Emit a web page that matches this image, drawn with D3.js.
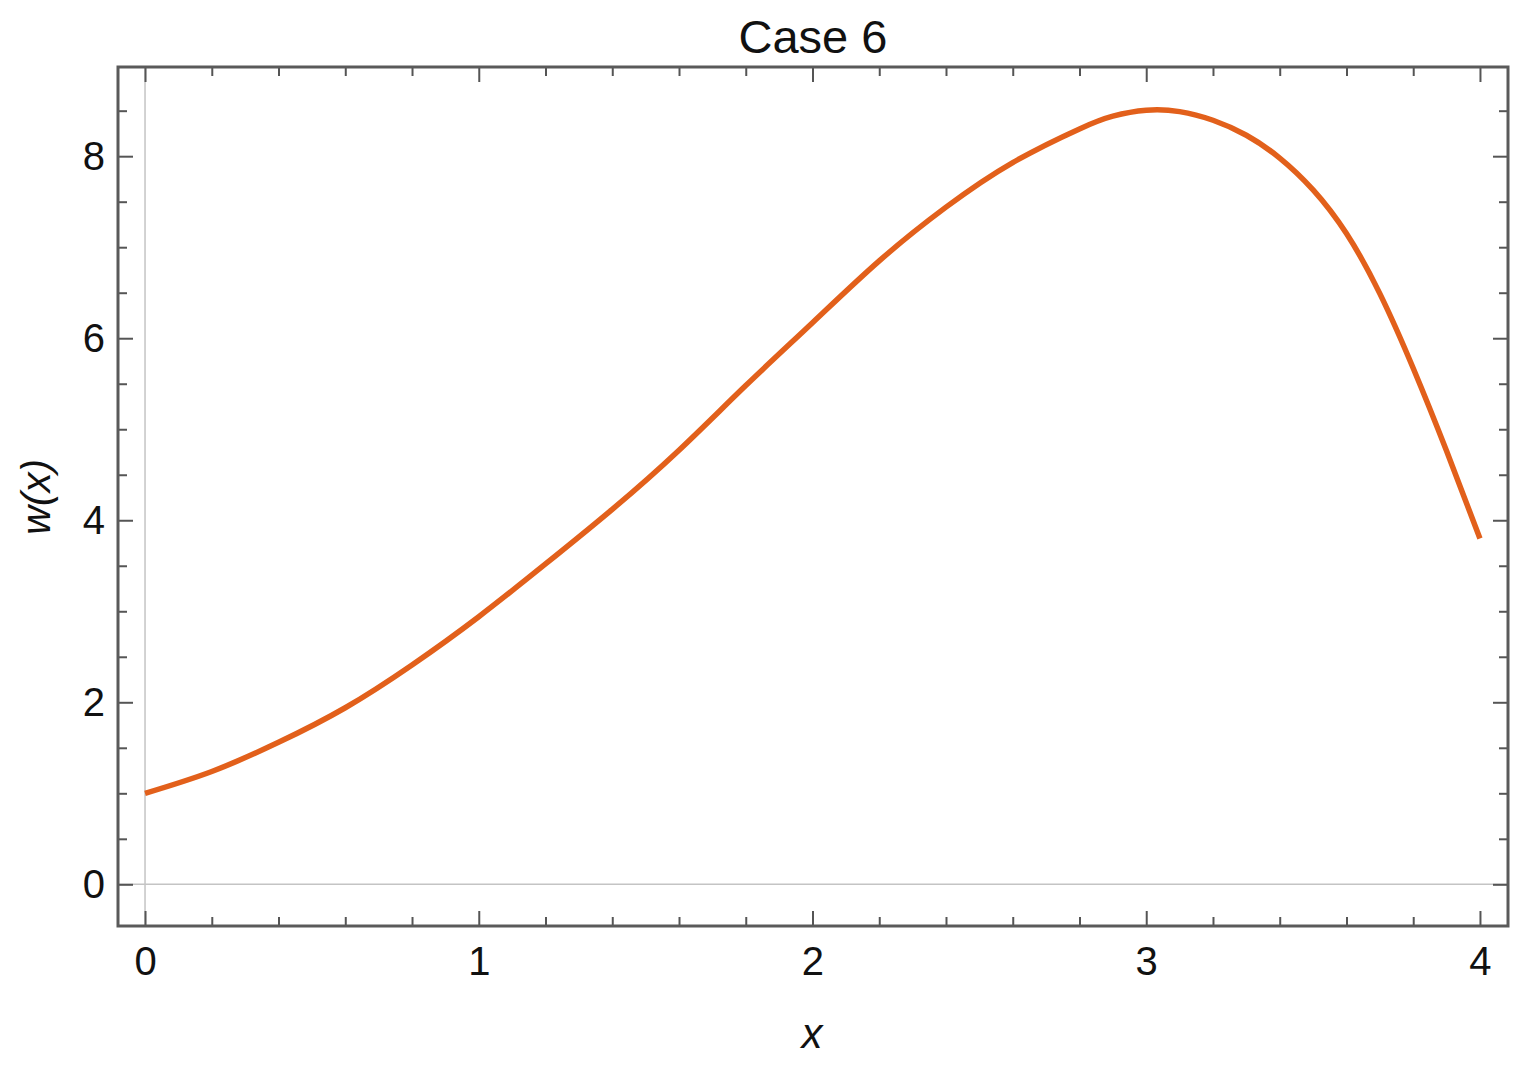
<!DOCTYPE html>
<html>
<head>
<meta charset="utf-8">
<script src="https://cdn.jsdelivr.net/npm/d3@7"></script>
<style>
  body { margin: 0; background: #fff; }
  text { font-family: "Liberation Sans", Arial, sans-serif; fill: #111; }
</style>
</head>
<body>
<div id="chart"></div>
<script>
const width = 1530;
const height = 1067;

// values
const xValues = [0, 0.2, 0.4, 0.6, 0.8, 1.0, 1.2, 1.4, 1.6, 1.8, 2.0, 2.2, 2.4, 2.6, 2.8, 2.9, 3.0, 3.1, 3.2, 3.3, 3.4, 3.5, 3.6, 3.7, 3.8, 3.9, 4.0];
const wValues = [1.0, 1.24, 1.56, 1.94, 2.41, 2.94, 3.52, 4.12, 4.77, 5.48, 6.17, 6.85, 7.44, 7.93, 8.30, 8.44, 8.505, 8.49, 8.395, 8.23, 7.98, 7.63, 7.15, 6.49, 5.67, 4.76, 3.80];
const xMajor = [0, 1, 2, 3, 4];
const xMinor = [0.2, 0.4, 0.6, 0.8, 1.2, 1.4, 1.6, 1.8, 2.2, 2.4, 2.6, 2.8, 3.2, 3.4, 3.6, 3.8];
const yMajor = [0, 2, 4, 6, 8];
const yMinor = [0.5, 1, 1.5, 2.5, 3, 3.5, 4.5, 5, 5.5, 6.5, 7, 7.5, 8.5];
const titleText = 'Case 6';

const frame = {left: 118, right: 1508, top: 67, bottom: 926};

const svg = d3.select('#chart')
    .append('svg')
    .attr('width', width)
    .attr('height', height);

const x = d3.scaleLinear()
    .domain([-0.081, 4.084])
    .range([frame.left, frame.right]);

const y = d3.scaleLinear()
    .domain([-0.458, 8.98])
    .range([frame.bottom, frame.top]);

// zero axes
svg.append('line')
    .attr('x1', x(0)).attr('x2', x(0))
    .attr('y1', frame.top).attr('y2', frame.bottom)
    .attr('stroke', '#c4c4c4').attr('stroke-width', 1.5);
svg.append('line')
    .attr('x1', frame.left).attr('x2', frame.right)
    .attr('y1', y(0)).attr('y2', y(0))
    .attr('stroke', '#c4c4c4').attr('stroke-width', 1.5);

function styleAxis(g) {
    g.select('.domain').remove();
    g.selectAll('.tick line').attr('stroke', '#555').attr('stroke-width', 2);
    g.selectAll('.tick text').attr('font-size', 40).attr('fill', '#111')
        .style('font-family', '"Liberation Sans", Arial, sans-serif');
}

const fmt = d3.format('d');

// bottom
svg.append('g').attr('transform', `translate(0,${frame.bottom})`)
    .call(d3.axisBottom(x).tickValues(xMajor).tickSize(-15).tickPadding(21).tickFormat(fmt))
    .call(styleAxis);
svg.append('g').attr('transform', `translate(0,${frame.bottom})`)
    .call(d3.axisBottom(x).tickValues(xMinor).tickSize(-9).tickFormat(''))
    .call(styleAxis);
// top
svg.append('g').attr('transform', `translate(0,${frame.top})`)
    .call(d3.axisTop(x).tickValues(xMajor).tickSize(-15).tickFormat(''))
    .call(styleAxis);
svg.append('g').attr('transform', `translate(0,${frame.top})`)
    .call(d3.axisTop(x).tickValues(xMinor).tickSize(-9).tickFormat(''))
    .call(styleAxis);
// left
svg.append('g').attr('transform', `translate(${frame.left},0)`)
    .call(d3.axisLeft(y).tickValues(yMajor).tickSize(-15).tickPadding(13).tickFormat(fmt))
    .call(styleAxis);
svg.append('g').attr('transform', `translate(${frame.left},0)`)
    .call(d3.axisLeft(y).tickValues(yMinor).tickSize(-9).tickFormat(''))
    .call(styleAxis);
// right
svg.append('g').attr('transform', `translate(${frame.right},0)`)
    .call(d3.axisRight(y).tickValues(yMajor).tickSize(-15).tickFormat(''))
    .call(styleAxis);
svg.append('g').attr('transform', `translate(${frame.right},0)`)
    .call(d3.axisRight(y).tickValues(yMinor).tickSize(-9).tickFormat(''))
    .call(styleAxis);

// frame
svg.append('rect')
    .attr('x', frame.left).attr('y', frame.top)
    .attr('width', frame.right - frame.left)
    .attr('height', frame.bottom - frame.top)
    .attr('fill', 'none')
    .attr('stroke', '#5a5a5a')
    .attr('stroke-width', 3);

// curve
const points = xValues.map((v, i) => [v, wValues[i]]);
const line = d3.line()
    .x(d => x(d[0]))
    .y(d => y(d[1]))
    .curve(d3.curveNatural);

svg.append('path')
    .datum(points)
    .attr('d', line)
    .attr('fill', 'none')
    .attr('stroke', '#e2601b')
    .attr('stroke-width', 5.5)
    .attr('stroke-linejoin', 'round');

// title and labels
svg.append('text')
    .attr('x', 813).attr('y', 53)
    .attr('text-anchor', 'middle')
    .attr('font-size', 47)
    .text(titleText);

svg.append('text')
    .attr('x', 812).attr('y', 1048)
    .attr('text-anchor', 'middle')
    .attr('font-size', 42)
    .attr('font-style', 'italic')
    .text('x');

svg.append('text')
    .attr('transform', 'translate(50,497) rotate(-90)')
    .attr('text-anchor', 'middle')
    .attr('font-size', 40)
    .attr('font-style', 'italic')
    .text('w(x)');
</script>
</body>
</html>
